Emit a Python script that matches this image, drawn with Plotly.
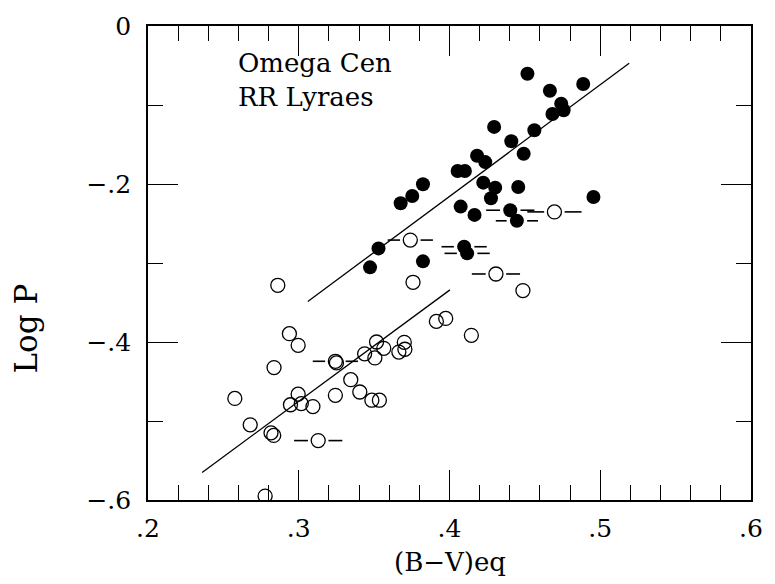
import numpy as np
import plotly.graph_objects as go

# Fundamental-mode (filled) RR Lyrae stars: colour and log period
ab_bv = [0.4517, 0.4887, 0.4666, 0.4741, 0.4683, 0.4757, 0.4296, 0.4563,
         0.4410, 0.4492, 0.4183, 0.4237, 0.4054, 0.4102, 0.3824, 0.4224,
         0.4303, 0.4456, 0.3753, 0.3676, 0.4275, 0.4955, 0.4074, 0.4166,
         0.4403, 0.4447, 0.3529, 0.3473, 0.3824, 0.4097, 0.4117]
ab_logp = [-0.0605, -0.0735, -0.0819, -0.0983, -0.1113, -0.1067, -0.1277, -0.1319,
           -0.1458, -0.1618, -0.1643, -0.1723, -0.1836, -0.1836, -0.2004, -0.1983,
           -0.2046, -0.2038, -0.2151, -0.2244, -0.2181, -0.2164, -0.2286, -0.2391,
           -0.2332, -0.2466, -0.2815, -0.3055, -0.2979, -0.2794, -0.2878]
# half-width of the horizontal colour-range bars (0 = no bar)
ab_err = [0, 0, 0, 0, 0, 0, 0, 0,
          0, 0, 0, 0, 0, 0, 0, 0,
          0, 0, 0, 0, 0, 0, 0, 0,
          0.016, 0.014, 0, 0, 0, 0.015, 0.015]

# First-overtone (open) RR Lyrae stars
c_bv = [0.3740, 0.4696, 0.4308, 0.3129, 0.3243, 0.3250, 0.2861, 0.3758,
        0.4487, 0.3913, 0.3975, 0.4145, 0.2938, 0.2996, 0.3516, 0.3564,
        0.3437, 0.3505, 0.3700, 0.3704, 0.3664, 0.2836, 0.2576, 0.2996,
        0.2945, 0.3017, 0.3094, 0.3243, 0.3345, 0.3405, 0.3485, 0.3535,
        0.2678, 0.2816, 0.2834, 0.2777]
c_logp = [-0.2710, -0.2353, -0.3139, -0.5248, -0.4244, -0.4265, -0.3282, -0.3244,
          -0.3349, -0.3739, -0.3702, -0.3916, -0.3895, -0.4042, -0.4000, -0.4080,
          -0.4150, -0.4202, -0.4004, -0.4092, -0.4128, -0.4324, -0.4714, -0.4660,
          -0.4794, -0.4780, -0.4817, -0.4675, -0.4477, -0.4633, -0.4737, -0.4737,
          -0.5048, -0.5150, -0.5183, -0.5950]
c_err = [0.015, 0.018, 0.016, 0.016, 0.015, 0, 0, 0,
         0, 0, 0, 0, 0, 0, 0, 0,
         0, 0, 0, 0, 0, 0, 0, 0,
         0, 0, 0, 0, 0, 0, 0, 0,
         0, 0, 0, 0]

# Least-squares fits (end points of each fitted segment)
fit_ab_bv = [0.3060, 0.5192]
fit_ab_logp = [-0.3487, -0.0471]
fit_c_bv = [0.2359, 0.4003]
fit_c_logp = [-0.5651, -0.3340]

x_ticks = [0.2, 0.3, 0.4, 0.5, 0.6]
x_ticktext = [".2", ".3", ".4", ".5", ".6"]
y_ticks = [0.0, -0.2, -0.4, -0.6]
y_ticktext = ["0", "\u2212.2", "\u2212.4", "\u2212.6"]

FONT = "DejaVu Serif"
GAP = 0.0068  # keeps the bars clear of the marker


def bar_segments(xs, ys, errs):
    bx, by = [], []
    for x, y, e in zip(xs, ys, errs):
        if not e:
            continue
        bx += [x - e, x - GAP, None, x + GAP, x + e, None]
        by += [y, y, None, y, y, None]
    return bx, by


fig = go.Figure()

for xs, ys, es in ((ab_bv, ab_logp, ab_err), (c_bv, c_logp, c_err)):
    bx, by = bar_segments(xs, ys, es)
    fig.add_trace(go.Scatter(x=bx, y=by, mode="lines",
                             line=dict(color="black", width=1.6),
                             hoverinfo="skip", showlegend=False))

fig.add_trace(go.Scatter(x=fit_ab_bv, y=fit_ab_logp, mode="lines",
                         line=dict(color="black", width=1.3), showlegend=False))
fig.add_trace(go.Scatter(x=fit_c_bv, y=fit_c_logp, mode="lines",
                         line=dict(color="black", width=1.3), showlegend=False))

fig.add_trace(go.Scatter(x=c_bv, y=c_logp, mode="markers",
                         marker=dict(symbol="circle-open", size=14,
                                     color="black", line=dict(width=1.3)),
                         showlegend=False))
fig.add_trace(go.Scatter(x=ab_bv, y=ab_logp, mode="markers",
                         marker=dict(symbol="circle", size=14, color="black"),
                         showlegend=False))

axis_common = dict(
    showline=True, linecolor="black", linewidth=1.6, mirror="ticks",
    ticks="inside", tickcolor="black", tickwidth=1.3, ticklen=30,
    showgrid=False, zeroline=False,
    tickfont=dict(family=FONT, size=25, color="black"),
)

fig.update_xaxes(
    range=[0.2, 0.6], tickmode="array", tickvals=x_ticks, ticktext=x_ticktext,
    ticklabelstandoff=5,
    minor=dict(tickvals=list(np.round(np.arange(0.22, 0.6, 0.02), 2)),
               ticks="inside", ticklen=15, tickwidth=1.3, tickcolor="black",
               showgrid=False),
    **axis_common,
)
fig.update_yaxes(
    range=[-0.6, 0.0], tickmode="array", tickvals=y_ticks, ticktext=y_ticktext,
    ticklabelstandoff=10,
    minor=dict(tickvals=[-0.1, -0.3, -0.5], ticks="inside", ticklen=15,
               tickwidth=1.3, tickcolor="black", showgrid=False),
    **axis_common,
)

fig.add_annotation(x=0.2585, y=-0.0687, xref="x", yref="y",
                   text="Omega Cen<br>RR Lyraes",
                   showarrow=False, xanchor="left", yanchor="middle", align="left",
                   font=dict(family=FONT, size=26, color="black"))
fig.add_annotation(x=0.5, y=-0.131, xref="paper", yref="paper", text="(B\u2212V)eq",
                   showarrow=False, xanchor="center", yanchor="middle",
                   font=dict(family=FONT, size=26, color="black"))
fig.add_annotation(x=-0.203, y=0.361, xref="paper", yref="paper", text="Log P",
                   showarrow=False, textangle=-90, xanchor="center", yanchor="middle",
                   font=dict(family=FONT, size=31, color="black"))

fig.update_layout(
    width=775, height=584,
    margin=dict(l=148, r=15, t=24, b=84),
    paper_bgcolor="white", plot_bgcolor="white",
)

fig.write_html("out.html")
